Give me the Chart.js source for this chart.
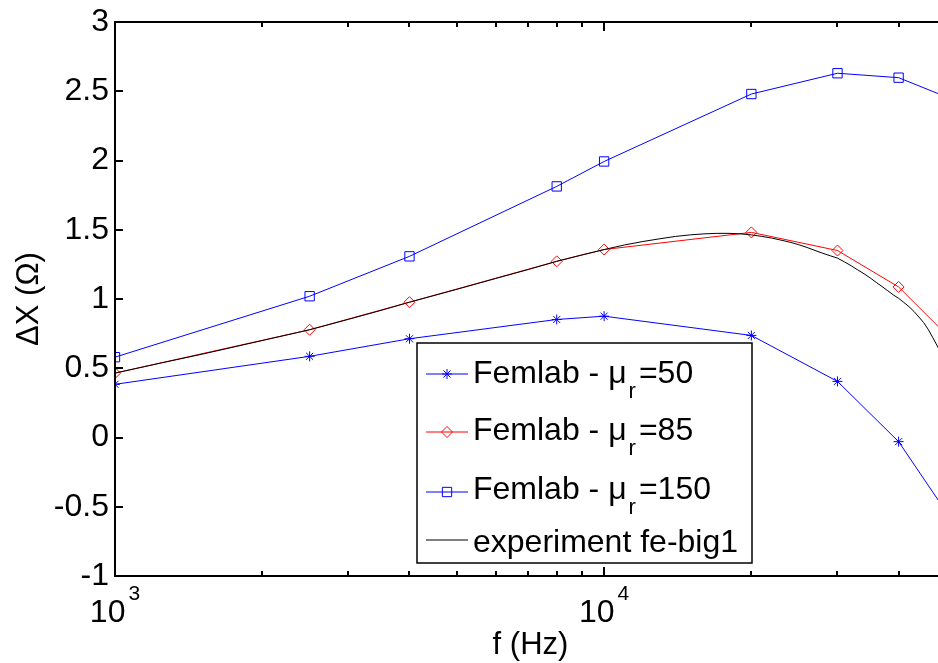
<!DOCTYPE html>
<html>
<head>
<meta charset="utf-8">
<script src="https://cdn.jsdelivr.net/npm/chart.js@4/dist/chart.umd.min.js"></script>
<style>
html, body { margin: 0; padding: 0; background: #fff; overflow: hidden; }
#wrap { width: 960px; height: 663px; }
</style>
</head>
<body>
<div id="wrap"><canvas id="chart" width="960" height="663"></canvas></div>
<script>
// simulated points (Femlab)
var simFreq = [1000, 2500, 4000, 8000, 10000, 20000, 30000, 40000, 50000];
var mu50  = [0.384, 0.586, 0.713, 0.852, 0.876, 0.737, 0.405, -0.03, -0.535];
var mu85  = [0.465, 0.778, 0.977, 1.272, 1.357, 1.481, 1.35, 1.087, 0.745];
var mu150 = [0.58, 1.02, 1.308, 1.813, 1.993, 2.48, 2.63, 2.598, 2.46];

// measured curve
var expFreq = [1000, 1250, 1500, 2000, 2500, 3000, 3500, 4000, 5000, 6000, 7000, 8000, 9000,
               10000, 11000, 12000, 13000, 14000, 15000, 16000, 17000, 18000, 19000, 20000,
               21000, 22000, 23000, 24000, 25000, 26000, 27000, 28000, 29000, 30000, 31000,
               32000, 33000, 34000, 35000, 36000, 37000, 38000, 39000, 40000, 41000, 42000,
               43000, 44000, 45000, 46000, 47000, 48000, 50000];
var expVals = [0.465, 0.54, 0.6, 0.7, 0.778, 0.853, 0.918, 0.977, 1.07, 1.148, 1.213, 1.272, 1.318,
               1.357, 1.39, 1.415, 1.435, 1.452, 1.463, 1.47, 1.474, 1.474, 1.47, 1.463,
               1.452, 1.44, 1.425, 1.41, 1.392, 1.372, 1.35, 1.33, 1.312, 1.295, 1.268,
               1.24, 1.21, 1.182, 1.152, 1.12, 1.09, 1.06, 1.03, 1.005, 0.975, 0.945,
               0.91, 0.87, 0.83, 0.78, 0.72, 0.66, 0.53];

var xMajor = [1000, 10000];
var xExp = ['3', '4'];
var xMinor = [2000, 3000, 4000, 5000, 6000, 7000, 8000, 9000, 20000, 30000, 40000];

var legendLabels = [
    ['Femlab - \u03bc', 'r', '=50'],
    ['Femlab - \u03bc', 'r', '=85'],
    ['Femlab - \u03bc', 'r', '=150'],
    ['experiment fe-big1', '', '']
];

var FONT = "'Liberation Sans', Arial, sans-serif";

function pts(xs, ys) {
    return xs.map(function (x, i) { return {x: x, y: ys[i]}; });
}

var datasets = [
    {label: 'experiment fe-big1', data: pts(expFreq, expVals), borderColor: '#000', borderWidth: 1,
     pointRadius: 0, order: 0},
    {label: 'Femlab - mu_r=50', data: pts(simFreq, mu50), borderColor: '#0000ff', borderWidth: 1,
     pointStyle: 'star', pointRadius: 5, pointBorderWidth: 1, order: 1},
    {label: 'Femlab - mu_r=85', data: pts(simFreq, mu85), borderColor: '#ff0000', borderWidth: 1,
     pointStyle: 'rectRot', pointRadius: 5.5, pointBorderWidth: 1, order: 1},
    {label: 'Femlab - mu_r=150', data: pts(simFreq, mu150), borderColor: '#0000ff', borderWidth: 1,
     pointStyle: 'rect', pointRadius: 6.6, pointBorderWidth: 1, order: 1}
];
datasets.forEach(function (d) {
    d.showLine = true;
    d.fill = false;
    d.tension = 0;
    d.pointBackgroundColor = 'rgba(0,0,0,0)';
    d.pointBorderColor = d.borderColor;
});

function line(ctx, x1, y1, x2, y2) {
    ctx.beginPath();
    ctx.moveTo(x1, y1);
    ctx.lineTo(x2, y2);
    ctx.stroke();
}

// matlab style box, inward ticks, 10^n labels and legend
var matlabPlugin = {
    id: 'matlabAxes',
    afterDatasetsDraw: function (chart) {
        var ctx = chart.ctx;
        var a = chart.chartArea;
        var xs = chart.scales.x, ys = chart.scales.y;
        ctx.save();
        ctx.strokeStyle = '#000';
        ctx.lineWidth = 2;

        ys.ticks.forEach(function (t) {
            var py = Math.round(ys.getPixelForValue(t.value));
            line(ctx, a.left, py, a.left + 8, py);
            line(ctx, a.right, py, a.right - 8, py);
        });
        xMajor.forEach(function (v) {
            var px = Math.round(xs.getPixelForValue(v));
            line(ctx, px, a.bottom, px, a.bottom - 9);
            line(ctx, px, a.top, px, a.top + 9);
        });
        xMinor.forEach(function (v) {
            var px = Math.round(xs.getPixelForValue(v));
            line(ctx, px, a.bottom, px, a.bottom - 5);
            line(ctx, px, a.top, px, a.top + 5);
        });
        ctx.strokeRect(a.left, a.top, a.right - a.left, a.bottom - a.top);

        // x tick labels with superscripts
        ctx.fillStyle = '#000';
        ctx.textBaseline = 'alphabetic';
        ctx.textAlign = 'left';
        xMajor.forEach(function (v, i) {
            var px = xs.getPixelForValue(v);
            ctx.font = '32px ' + FONT;
            var wb = ctx.measureText('10').width;
            ctx.font = '21px ' + FONT;
            var we = ctx.measureText(xExp[i]).width;
            var x0 = px - (wb + 3 + we) / 2;
            ctx.font = '32px ' + FONT;
            ctx.fillText('10', x0, a.bottom + 46);
            ctx.font = '21px ' + FONT;
            ctx.fillText(xExp[i], x0 + wb + 3, a.bottom + 24);
        });

        // legend
        var lx = 417, ly = 343, lw = 335, lh = 220;
        ctx.fillStyle = '#fff';
        ctx.fillRect(lx, ly, lw, lh);
        ctx.lineWidth = 1.5;
        ctx.strokeStyle = '#000';
        ctx.strokeRect(lx, ly, lw, lh);

        var rowLine = [374, 432, 492, 540];
        var rowBase = [383, 440, 499, 552];
        var order = [1, 2, 3, 0];
        order.forEach(function (di, r) {
            var ds = chart.data.datasets[di];
            var y = rowLine[r];
            ctx.strokeStyle = ds.borderColor;
            ctx.lineWidth = 1;
            line(ctx, 426, y, 468, y);
            if (ds.pointRadius > 0) {
                ctx.fillStyle = 'rgba(0,0,0,0)';
                Chart.helpers.drawPoint(ctx, {
                    pointStyle: ds.pointStyle, radius: ds.pointRadius, rotation: 0, borderWidth: 1
                }, 447, y);
            }
            var lab = legendLabels[r];
            var x = 473;
            ctx.fillStyle = '#000';
            ctx.font = '32px ' + FONT;
            ctx.fillText(lab[0], x, rowBase[r]);
            x += ctx.measureText(lab[0]).width + 2;
            if (lab[1]) {
                ctx.font = '22px ' + FONT;
                ctx.fillText(lab[1], x, rowBase[r] + 15);
                x += ctx.measureText(lab[1]).width + 3;
            }
            if (lab[2]) {
                ctx.font = '32px ' + FONT;
                ctx.fillText(lab[2], x, rowBase[r]);
            }
        });
        ctx.restore();
    }
};

var ctx = document.getElementById('chart');
var chart = new Chart(ctx, {
    type: 'scatter',
    data: {datasets: datasets},
    plugins: [matlabPlugin],
    options: {
        responsive: false,
        animation: false,
        events: [],
        layout: {padding: {top: 21, right: 14, left: 0, bottom: 0}},
        plugins: {legend: {display: false}, tooltip: {enabled: false}},
        scales: {
            x: {
                type: 'logarithmic',
                min: 1000,
                max: 50000,
                grid: {display: false, drawTicks: false},
                border: {display: false},
                ticks: {display: false},
                title: {display: true, text: 'f (Hz)', color: '#000',
                        font: {family: FONT, size: 31, lineHeight: 1}, padding: {top: 0, bottom: 2}},
                afterFit: function (scale) { scale.height = 87; }
            },
            y: {
                min: -1,
                max: 3,
                grid: {display: false, drawTicks: false},
                border: {display: false},
                ticks: {
                    stepSize: 0.5,
                    padding: 6,
                    color: '#000',
                    font: {family: FONT, size: 32, lineHeight: 1},
                    callback: function (v) { return String(Math.round(v * 10) / 10); }
                },
                title: {display: true, text: '\u0394X (\u03a9)', color: '#000',
                        font: {family: FONT, size: 31, lineHeight: 1}, padding: {top: 14, bottom: 0}},
                afterFit: function (scale) { scale.width = 115; }
            }
        }
    }
});
</script>
</body>
</html>
